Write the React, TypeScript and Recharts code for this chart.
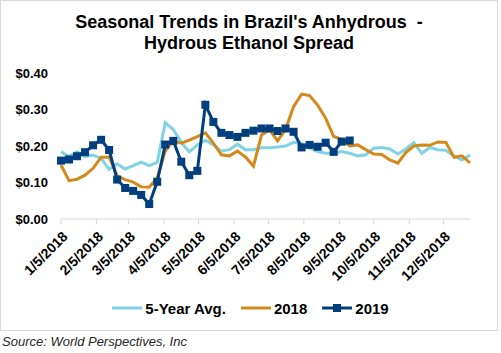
import React from 'react';
import { LineChart, Line, XAxis, YAxis, Legend } from 'recharts';

const FONT = '"Liberation Sans", Arial, sans-serif';
const LIGHT_BLUE = '#80D2E4';
const ORANGE = '#D4891C';
const NAVY = '#003E7E';

// weekly observations, first week = 1/5/2018
const FIRST_WEEK = Date.UTC(2018, 0, 5);
const DAY_MS = 86400000;

const monthTicks = ['1/5/2018', '2/5/2018', '3/5/2018', '4/5/2018', '5/5/2018', '6/5/2018',
  '7/5/2018', '8/5/2018', '9/5/2018', '10/5/2018', '11/5/2018', '12/5/2018'];
const yTicks = [0, 0.05, 0.1, 0.15, 0.2, 0.25, 0.3, 0.35, 0.4];

const avg5yr = [0.184, 0.171, 0.184, 0.171, 0.175, 0.166, 0.136, 0.151, 0.137, 0.146,
  0.156, 0.146, 0.155, 0.264, 0.245, 0.21, 0.184, 0.203, 0.216, 0.203,
  0.186, 0.19, 0.205, 0.19, 0.19, 0.195, 0.195, 0.197, 0.2, 0.21,
  0.207, 0.195, 0.185, 0.18, 0.18, 0.185, 0.18, 0.173, 0.176, 0.194,
  0.196, 0.192, 0.178, 0.192, 0.209, 0.18, 0.196, 0.19, 0.188, 0.172,
  0.162, 0.175];
const y2018 = [0.148, 0.105, 0.109, 0.12, 0.139, 0.169, 0.17, 0.118, 0.108, 0.101,
  0.088, 0.087, 0.113, 0.186, 0.214, 0.208, 0.216, 0.226, 0.236, 0.208,
  0.176, 0.173, 0.186, 0.17, 0.145, 0.23, 0.244, 0.214, 0.245, 0.308,
  0.342, 0.338, 0.312, 0.276, 0.226, 0.218, 0.2, 0.203, 0.19, 0.178,
  0.177, 0.162, 0.153, 0.182, 0.2, 0.203, 0.202, 0.211, 0.21, 0.169,
  0.173, 0.154];
const y2019 = [0.16, 0.163, 0.172, 0.183, 0.202, 0.217, 0.189, 0.108, 0.085, 0.077,
  0.066, 0.041, 0.102, 0.204, 0.214, 0.157, 0.12, 0.132, 0.313, 0.266,
  0.236, 0.23, 0.225, 0.236, 0.242, 0.248, 0.248, 0.241, 0.248, 0.239,
  0.196, 0.203, 0.198, 0.209, 0.184, 0.212, 0.215];

const labelToDay = (s: string) => {
  const [m, d, y] = s.split('/').map(Number);
  return Math.round((Date.UTC(y, m - 1, d) - FIRST_WEEK) / DAY_MS);
};
const tickDays = monthTicks.map(labelToDay);

const data = avg5yr.map((v, i) => ({
  day: i * 7,
  avg: v,
  y2018: y2018[i],
  y2019: i < y2019.length ? y2019[i] : null,
}));

const DateTick = ({ x, y, payload }: any) => {
  const idx = tickDays.indexOf(payload.value);
  return (
    <g transform={`translate(${x + 4},${y + 8})`}>
      <text transform="rotate(-45)" textAnchor="end" dy="0.35em" fontSize={14}
        fontWeight="bold" fill="#000" fontFamily={FONT}>
        {idx >= 0 ? monthTicks[idx] : ''}
      </text>
    </g>
  );
};

const SquareDot = (props: any) => {
  const { cx, cy, index } = props;
  if (cx == null || cy == null || props.value == null) return <g key={`e-${index}`} />;
  return <rect key={`s-${index}`} x={cx - 4} y={cy - 4} width={8} height={8} fill={NAVY} />;
};

const legendItems = [
  { name: '5-Year Avg.', color: LIGHT_BLUE, marker: false },
  { name: '2018', color: ORANGE, marker: false },
  { name: '2019', color: NAVY, marker: true },
];

const LegendContent = () => (
  <div style={{ display: 'flex', justifyContent: 'center', alignItems: 'center', gap: 15, height: 20 }}>
    {legendItems.map((it) => (
      <div key={it.name} style={{ display: 'flex', alignItems: 'center' }}>
        <svg width={30} height={10}>
          <line x1={0} y1={5} x2={30} y2={5} stroke={it.color} strokeWidth={3} />
          {it.marker && <rect x={11} y={1} width={8} height={8} fill={it.color} />}
        </svg>
        <span style={{ marginLeft: 3, fontSize: 15, fontWeight: 'bold', fontFamily: FONT, color: '#000' }}>
          {it.name}
        </span>
      </div>
    ))}
  </div>
);

export default function App() {
  return (
    <div style={{ position: 'absolute', left: 0, top: 0, width: 501, height: 353, background: '#fff', fontFamily: FONT }}>
      <div style={{ position: 'absolute', left: 0, top: 0, width: 496, height: 329, border: '1px solid #d9d9d9' }} />
      <div style={{
        position: 'absolute', left: 0, top: 12, width: 498, textAlign: 'center',
        fontSize: 18, fontWeight: 'bold', lineHeight: '21px', color: '#000', whiteSpace: 'pre',
      }}>
        {"Seasonal Trends in Brazil's Anhydrous  -\nHydrous Ethanol Spread"}
      </div>
      <div style={{ position: 'absolute', left: 0, top: 0 }}>
        <LineChart width={501} height={330} data={data} margin={{ top: 73, right: 31, bottom: 0, left: 11 }}>
          <XAxis
            dataKey="day"
            type="number"
            domain={[0, 357]}
            ticks={tickDays}
            interval={0}
            height={111}
            stroke="#d9d9d9"
            tickSize={5}
            tick={<DateTick />}
          />
          <YAxis
            domain={[0, 0.4]}
            ticks={yTicks}
            width={50}
            axisLine={false}
            tickLine={false}
            tickSize={0}
            tickMargin={13}
            tickFormatter={(v: number) => `$${v.toFixed(2)}`}
            tick={{ fontSize: 13, fontWeight: 'bold', fill: '#000', fontFamily: FONT }}
          />
          <Legend
            verticalAlign="middle"
            align="center"
            wrapperStyle={{ top: 298, left: 0, width: 501 }}
            content={<LegendContent />}
          />
          <Line dataKey="avg" stroke={LIGHT_BLUE} strokeWidth={3} dot={false} isAnimationActive={false} />
          <Line dataKey="y2018" stroke={ORANGE} strokeWidth={3} dot={false} isAnimationActive={false} />
          <Line dataKey="y2019" stroke={NAVY} strokeWidth={3} dot={<SquareDot />} isAnimationActive={false} />
        </LineChart>
      </div>
      <div style={{ position: 'absolute', left: 2, top: 334, fontSize: 13, fontStyle: 'italic', lineHeight: '15px', color: '#262626' }}>
        Source: World Perspectives, Inc
      </div>
    </div>
  );
}
